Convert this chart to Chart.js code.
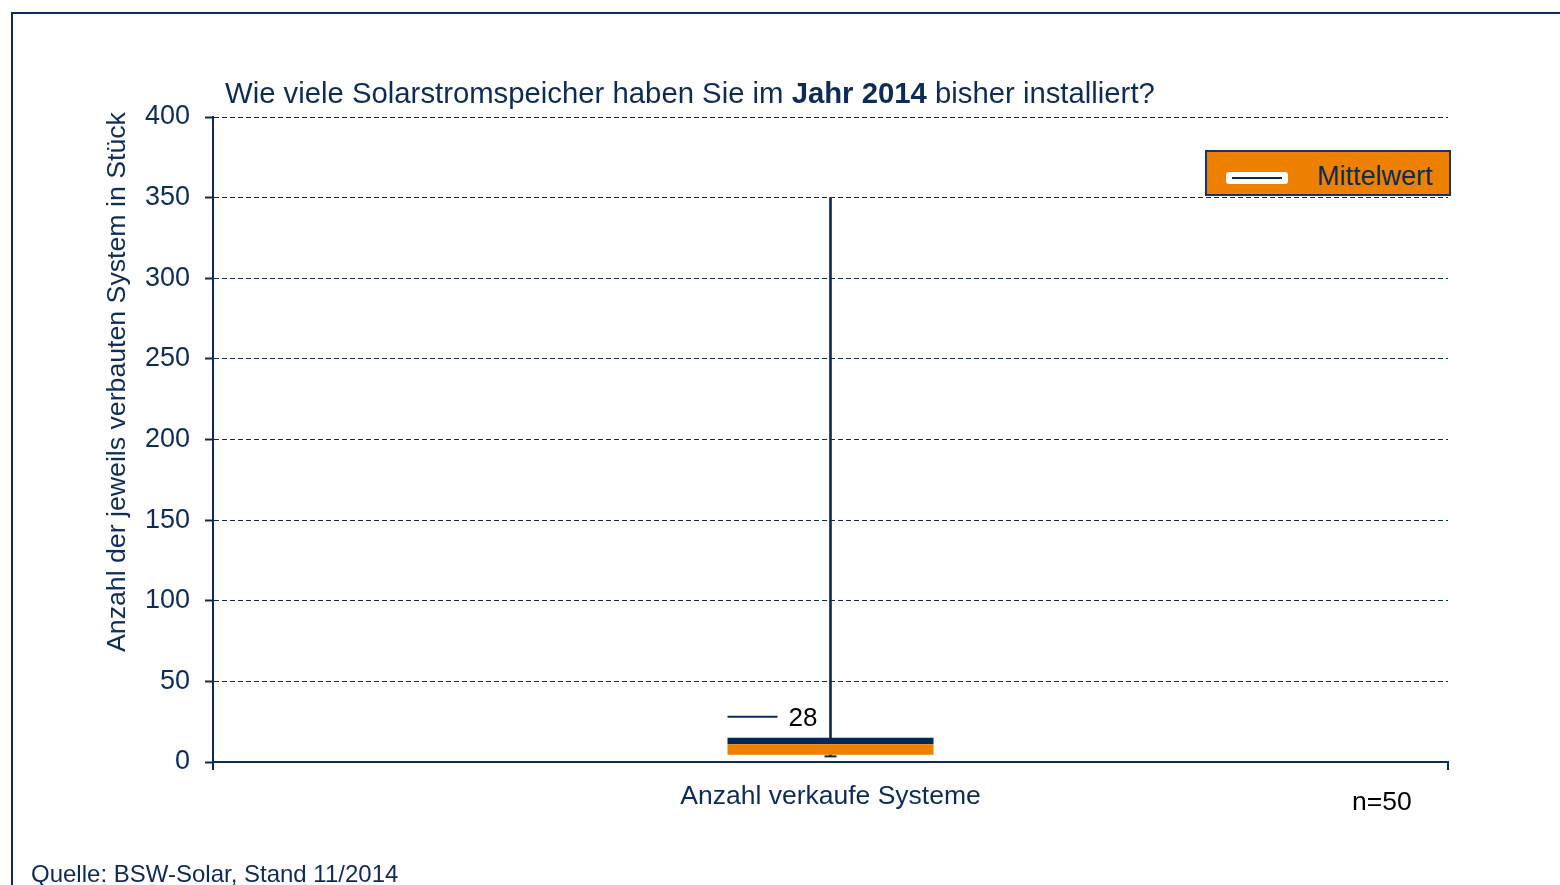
<!DOCTYPE html>
<html>
<head>
<meta charset="utf-8">
<script src="https://cdn.jsdelivr.net/npm/chart.js@4.4.1/dist/chart.umd.min.js"></script>
<style>
  html, body { margin:0; padding:0; background:#fff; width:1560px; height:885px; overflow:hidden; font-family:"Liberation Sans", Arial, sans-serif; }
  #frame { position:absolute; left:11px; top:12px; width:1700px; height:1000px; border:2px solid #0d2b57; box-sizing:border-box; }
  #wrap { position:absolute; left:0; top:0; width:1560px; height:885px; }
  #title { position:absolute; left:225px; top:76px; font-size:29.3px; line-height:34px; color:#0d2b57; white-space:nowrap; }
  #ytitle { position:absolute; left:116px; top:382px; font-size:26.7px; line-height:30px; color:#0d2b57; white-space:nowrap; transform:translate(-50%,-50%) rotate(-90deg); }
  #legend { position:absolute; left:1205px; top:150px; width:246px; height:46px; background:#ee8000; border:2px solid #1c355e; box-sizing:border-box; }
  #legend .sym { position:absolute; left:19px; top:20px; width:62px; height:12px; background:#fff; border-radius:3px; }
  #legend .sym i { position:absolute; left:6px; right:6px; top:5px; height:2px; background:#0d2b57; }
  #legend .txt { position:absolute; left:110px; top:9px; font-size:27px; line-height:30px; color:#0d2b57; }
  #n { position:absolute; left:1352px; top:786px; font-size:26.5px; line-height:30px; color:#000; }
  #src { position:absolute; left:31px; top:859px; font-size:24px; line-height:30px; color:#0d2b57; white-space:nowrap; }
</style>
</head>
<body>
<div id="frame"></div>
<div id="wrap"><canvas id="c" width="1560" height="885"></canvas></div>
<div id="title">Wie viele Solarstromspeicher haben Sie im <b>Jahr 2014</b> bisher installiert?</div>
<div id="ytitle">Anzahl der jeweils verbauten System in Stück</div>
<div id="legend"><div class="sym"><i></i></div><div class="txt">Mittelwert</div></div>
<div id="n">n=50</div>
<div id="src">Quelle: BSW-Solar, Stand 11/2014</div>
<script>
// ---- data ----
const categories = ["Anzahl verkaufe Systeme"];
const minValues = [3.5];
const q1Values = [4.5];
const medianValues = [11];
const q3Values = [15];
const maxValues = [350];
const meanValues = [28];
const yTicks = [0, 50, 100, 150, 200, 250, 300, 350, 400];

const NAVY = "#0d2b57";
const NAVY_DARK = "#002856";
const ORANGE = "#ee8000";
const FONT = "'Liberation Sans', Arial, sans-serif";

const boxExtras = {
  id: "boxExtras",
  afterDatasetsDraw(chart) {
    const ctx = chart.ctx;
    const y = chart.scales.y;
    const meta = chart.getDatasetMeta(2);
    meta.data.forEach((bar, i) => {
      const left = bar.x - bar.width / 2;
      // mean marker
      const ym = y.getPixelForValue(meanValues[i]);
      ctx.save();
      ctx.strokeStyle = NAVY;
      ctx.lineWidth = 2;
      ctx.beginPath();
      ctx.moveTo(left, ym);
      ctx.lineTo(left + 50, ym);
      ctx.stroke();
      ctx.fillStyle = "#000";
      ctx.font = "26px " + FONT;
      ctx.textBaseline = "middle";
      ctx.fillText(String(meanValues[i]), left + 61, ym + 2);
      // min cap
      const yMin = y.getPixelForValue(minValues[i]);
      ctx.beginPath();
      ctx.moveTo(bar.x - 6, yMin);
      ctx.lineTo(bar.x + 6, yMin);
      ctx.stroke();
      ctx.restore();
    });
  }
};

new Chart(document.getElementById("c"), {
  type: "bar",
  data: {
    labels: categories,
    datasets: [
      { label: "Whisker oben", data: q3Values.map((v, i) => [v, maxValues[i]]), backgroundColor: NAVY, barThickness: 2, order: 3 },
      { label: "Whisker unten", data: minValues.map((v, i) => [v, q1Values[i]]), backgroundColor: NAVY, barThickness: 2, order: 3 },
      { label: "Q1-Median", data: q1Values.map((v, i) => [v, medianValues[i]]), backgroundColor: ORANGE, categoryPercentage: 1, barPercentage: 0.1668, order: 1 },
      { label: "Median-Q3", data: medianValues.map((v, i) => [v, q3Values[i]]), backgroundColor: NAVY_DARK, categoryPercentage: 1, barPercentage: 0.1668, order: 1 }
    ]
  },
  options: {
    responsive: false,
    animation: false,
    grouped: false,
    layout: { padding: { left: 0, right: 112, top: 117, bottom: 0 } },
    plugins: { legend: { display: false }, tooltip: { enabled: false } },
    scales: {
      x: {
        afterFit(s) { s.height = 123; },
        grid: { display: true, drawOnChartArea: false, drawTicks: true, tickLength: 8, color: NAVY, lineWidth: 2 },
        border: { display: true, color: NAVY, width: 2 },
        ticks: { color: NAVY, font: { size: 26.5, family: FONT }, padding: 11 }
      },
      y: {
        min: 0, max: 400,
        afterFit(s) { s.width = 213; },
        afterBuildTicks(s) { s.ticks = yTicks.map(v => ({ value: v })); },
        grid: { color: NAVY, lineWidth: 1, tickLength: 8, tickColor: NAVY, tickWidth: 2, tickBorderDash: [] },
        border: { display: true, color: NAVY, width: 2, dash: [5, 3] },
        ticks: { color: NAVY, font: { size: 27, family: FONT }, padding: 15 }
      }
    }
  },
  plugins: [boxExtras]
});
</script>
</body>
</html>
